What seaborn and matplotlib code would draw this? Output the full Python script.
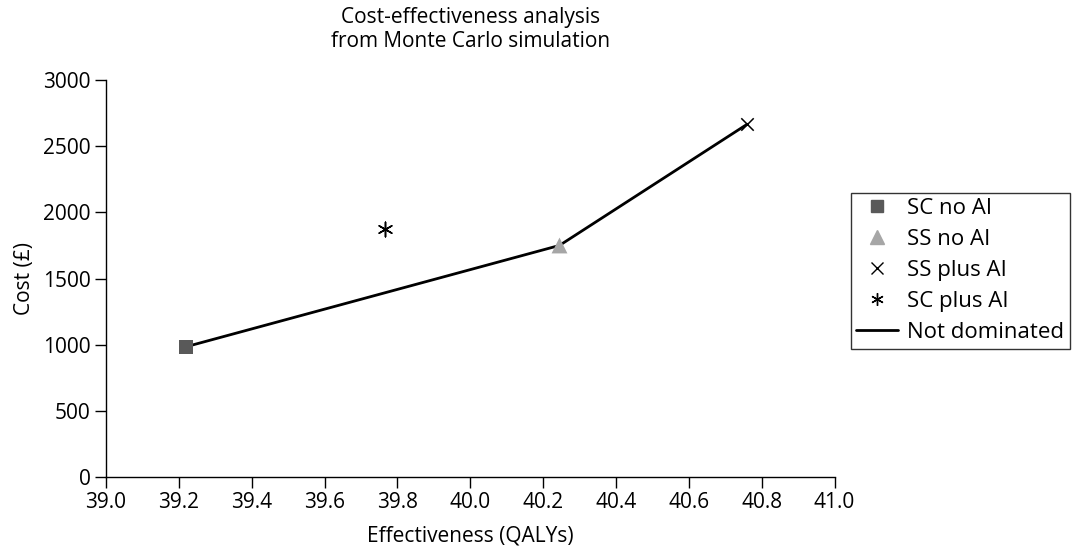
import numpy as np
import pandas as pd
import matplotlib
matplotlib.use("Agg")
import matplotlib.pyplot as plt
import seaborn as sns
from matplotlib.lines import Line2D

strategies = ["SC no AI", "SS no AI", "SS plus AI", "SC plus AI"]
effect = [39.22, 40.245, 40.76, 39.765]
cost = [985, 1750, 2665, 1875]
frontier = ["SC no AI", "SS no AI", "SS plus AI"]

colors = ["#595959", "#a6a6a6", "black", "black"]
markers = ["s", "^", "x", (6, 2, 0)]
sizes = [90, 130, 80, 110]

sns.set_style("white")
plt.rcParams["font.family"] = ["Open Sans", "DejaVu Sans"]
plt.rcParams["text.color"] = "black"
plt.rcParams["axes.labelcolor"] = "black"
plt.rcParams["xtick.color"] = "black"
plt.rcParams["ytick.color"] = "black"
fs = 15
plt.rcParams["font.size"] = fs

df = pd.DataFrame({"strategy": strategies, "effect": effect, "cost": cost})
front = df[df["strategy"].isin(frontier)].sort_values("effect")

fig = plt.figure(figsize=(10.81, 5.51), dpi=100)
ax = fig.add_axes([0.098, 0.134, 0.674, 0.721])

sns.lineplot(data=front, x="effect", y="cost", color="black", lw=2, ax=ax,
             sort=True, zorder=1, legend=False)
for i, name in enumerate(strategies):
    sub = df[df["strategy"] == name]
    sns.scatterplot(data=sub, x="effect", y="cost", color=colors[i], marker=markers[i],
                    s=sizes[i], linewidth=1.1 if i >= 2 else 0, edgecolor=colors[i],
                    ax=ax, zorder=3, legend=False)

ax.set_xlim(39.0, 41.0)
ax.set_ylim(0, 3000)
xt = np.arange(39.0, 41.01, 0.2)
ax.set_xticks(xt)
ax.set_xticklabels([f"{v:.1f}" for v in xt])
ax.set_yticks(range(0, 3001, 500))
ax.tick_params(direction="out", length=8, width=1, color="black", labelsize=fs,
               bottom=True, left=True, pad=3)
for s in ["top", "right"]:
    ax.spines[s].set_visible(False)
for s in ["left", "bottom"]:
    ax.spines[s].set_color("black")
    ax.spines[s].set_linewidth(1)
ax.set_xlabel("Effectiveness (QALYs)", fontsize=fs, labelpad=9)
ax.set_ylabel("Cost (£)", fontsize=fs, labelpad=6)
ax.set_title("Cost-effectiveness analysis\nfrom Monte Carlo simulation", fontsize=fs,
             pad=24, linespacing=1.15)

handles = [
    Line2D([], [], ls="", marker="s", color=colors[0], ms=8),
    Line2D([], [], ls="", marker="^", color=colors[1], ms=10),
    Line2D([], [], ls="", marker="x", color="black", ms=8, mew=1),
    Line2D([], [], ls="", marker=(6, 2, 0), color="black", ms=9, mew=1),
    Line2D([], [], color="black", lw=2),
]
leg = ax.legend(handles, strategies + ["Not dominated"], loc="center left",
                bbox_to_anchor=(1.022, 0.52), frameon=True, fancybox=False,
                edgecolor="black", fontsize=16, handlelength=1.9,
                borderpad=0.25, labelspacing=0.45, handletextpad=0.4,
                borderaxespad=0)
leg.get_frame().set_linewidth(1)

fig.savefig("out.png", dpi=100)
